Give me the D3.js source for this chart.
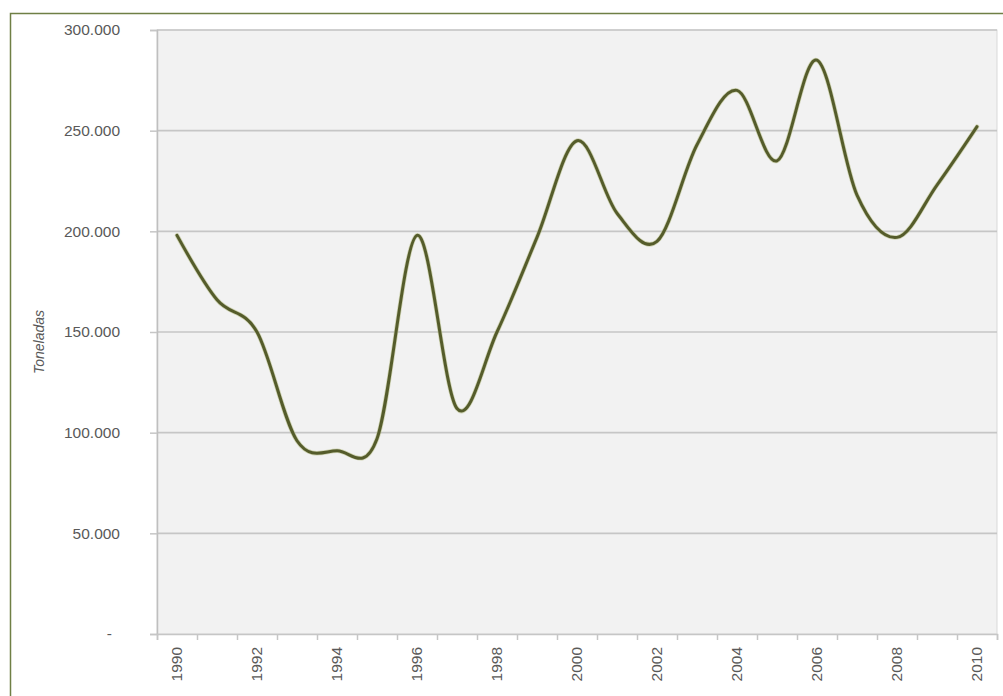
<!DOCTYPE html>
<html>
<head>
<meta charset="utf-8">
<script src="https://cdn.jsdelivr.net/npm/d3@7"></script>
<style>
  html, body { margin: 0; padding: 0; background: #ffffff; }
  svg { display: block; }
  text { font-family: "Liberation Sans", Arial, sans-serif; fill: #595959; }
</style>
</head>
<body>
<svg id="chart" width="1003" height="696"></svg>
<script>
const years = ["1990","1991","1992","1993","1994","1995","1996","1997","1998","1999","2000",
               "2001","2002","2003","2004","2005","2006","2007","2008","2009","2010"];
const toneladas = [198000,166000,150000,96000,91000,97000,198000,112000,150000,197000,245000,
                   209000,195000,243000,270000,235000,285000,218000,197000,223000,252000];
const yTicks = [0,50000,100000,150000,200000,250000,300000];
const yTickLabels = ["-","50.000","100.000","150.000","200.000","250.000","300.000"];
const xLabelYears = ["1990","1992","1994","1996","1998","2000","2002","2004","2006","2008","2010"];
const yAxisTitle = "Toneladas";

const svg = d3.select("#chart");
const m = {left: 157, right: 997, top: 30, bottom: 634};

// outer frame
svg.append("rect").attr("x", 10.5).attr("y", 13.5).attr("width", 1000).attr("height", 700)
  .attr("fill", "#ffffff").attr("stroke", "#6f7f45").attr("stroke-width", 1.5);

const x = d3.scaleBand().domain(years).range([m.left, m.right]).padding(0);
const xb = d3.scaleLinear().domain([0, years.length]).range([m.left, m.right]);
const y = d3.scaleLinear().domain([0, 300000]).range([m.bottom, m.top]);

// plot area
svg.append("rect").attr("x", m.left).attr("y", m.top)
  .attr("width", m.right - m.left).attr("height", m.bottom - m.top)
  .attr("fill", "#f2f2f2").attr("stroke", "#d9d9d9").attr("stroke-width", 1);

// gridlines
svg.append("g").selectAll("line").data(yTicks.filter(d => d > 0)).join("line")
  .attr("x1", m.left).attr("x2", m.right)
  .attr("y1", d => y(d)).attr("y2", d => y(d))
  .attr("stroke", "#c6c6c6").attr("stroke-width", 1.6);

// y axis
const yAxis = svg.append("g").attr("transform", `translate(${m.left},0)`)
  .call(d3.axisLeft(y).tickValues(yTicks).tickSize(7).tickPadding(30)
    .tickFormat((d, i) => yTickLabels[i]));
yAxis.select(".domain").attr("stroke", "#bfbfbf").attr("stroke-width", 1.5);
yAxis.selectAll(".tick line").attr("stroke", "#c6c6c6").attr("stroke-width", 1.5);
yAxis.selectAll(".tick text").attr("font-size", 15.5).attr("fill", "#595959")
  .attr("font-family", "Liberation Sans, Arial, sans-serif")
  .attr("dx", (d) => d === 0 ? -8 : 0);

// x axis boundary ticks
const xTicksG = svg.append("g").attr("transform", `translate(0,${m.bottom})`)
  .call(d3.axisBottom(xb).tickValues(d3.range(0, years.length + 1)).tickSize(6).tickFormat(""));
xTicksG.select(".domain").attr("stroke", "#c6c6c6").attr("stroke-width", 1.5);
xTicksG.selectAll(".tick line").attr("stroke", "#c6c6c6").attr("stroke-width", 1.5);

// x labels
const xLab = svg.append("g").attr("transform", `translate(0,${m.bottom})`)
  .call(d3.axisBottom(x).tickValues(xLabelYears).tickSize(0).tickPadding(0));
xLab.select(".domain").remove();
xLab.selectAll(".tick text")
  .attr("font-size", 15.5).attr("fill", "#595959")
  .attr("font-family", "Liberation Sans, Arial, sans-serif")
  .attr("transform", "rotate(-90)")
  .attr("text-anchor", "end")
  .attr("x", -13).attr("y", 0).attr("dy", "0.35em");

// y title
svg.append("text").attr("transform", "translate(39,342) rotate(-90)")
  .attr("text-anchor", "middle").attr("dy", "0.35em")
  .attr("font-size", 14).attr("font-style", "italic").attr("fill", "#595959")
  .text(yAxisTitle);

// line
const line = d3.line()
  .x((d, i) => x(years[i]) + x.bandwidth() / 2)
  .y(d => y(d))
  .curve(d3.curveCardinal.tension(0));

svg.append("path").datum(toneladas).attr("d", line)
  .attr("fill", "none").attr("stroke", "#b9bf8a").attr("stroke-width", 4.5)
  .attr("stroke-linejoin", "round").attr("stroke-linecap", "round").attr("opacity", 0.6);
svg.append("path").datum(toneladas).attr("d", line)
  .attr("fill", "none").attr("stroke", "#555c2b").attr("stroke-width", 3)
  .attr("stroke-linejoin", "round").attr("stroke-linecap", "round");
</script>
</body>
</html>
